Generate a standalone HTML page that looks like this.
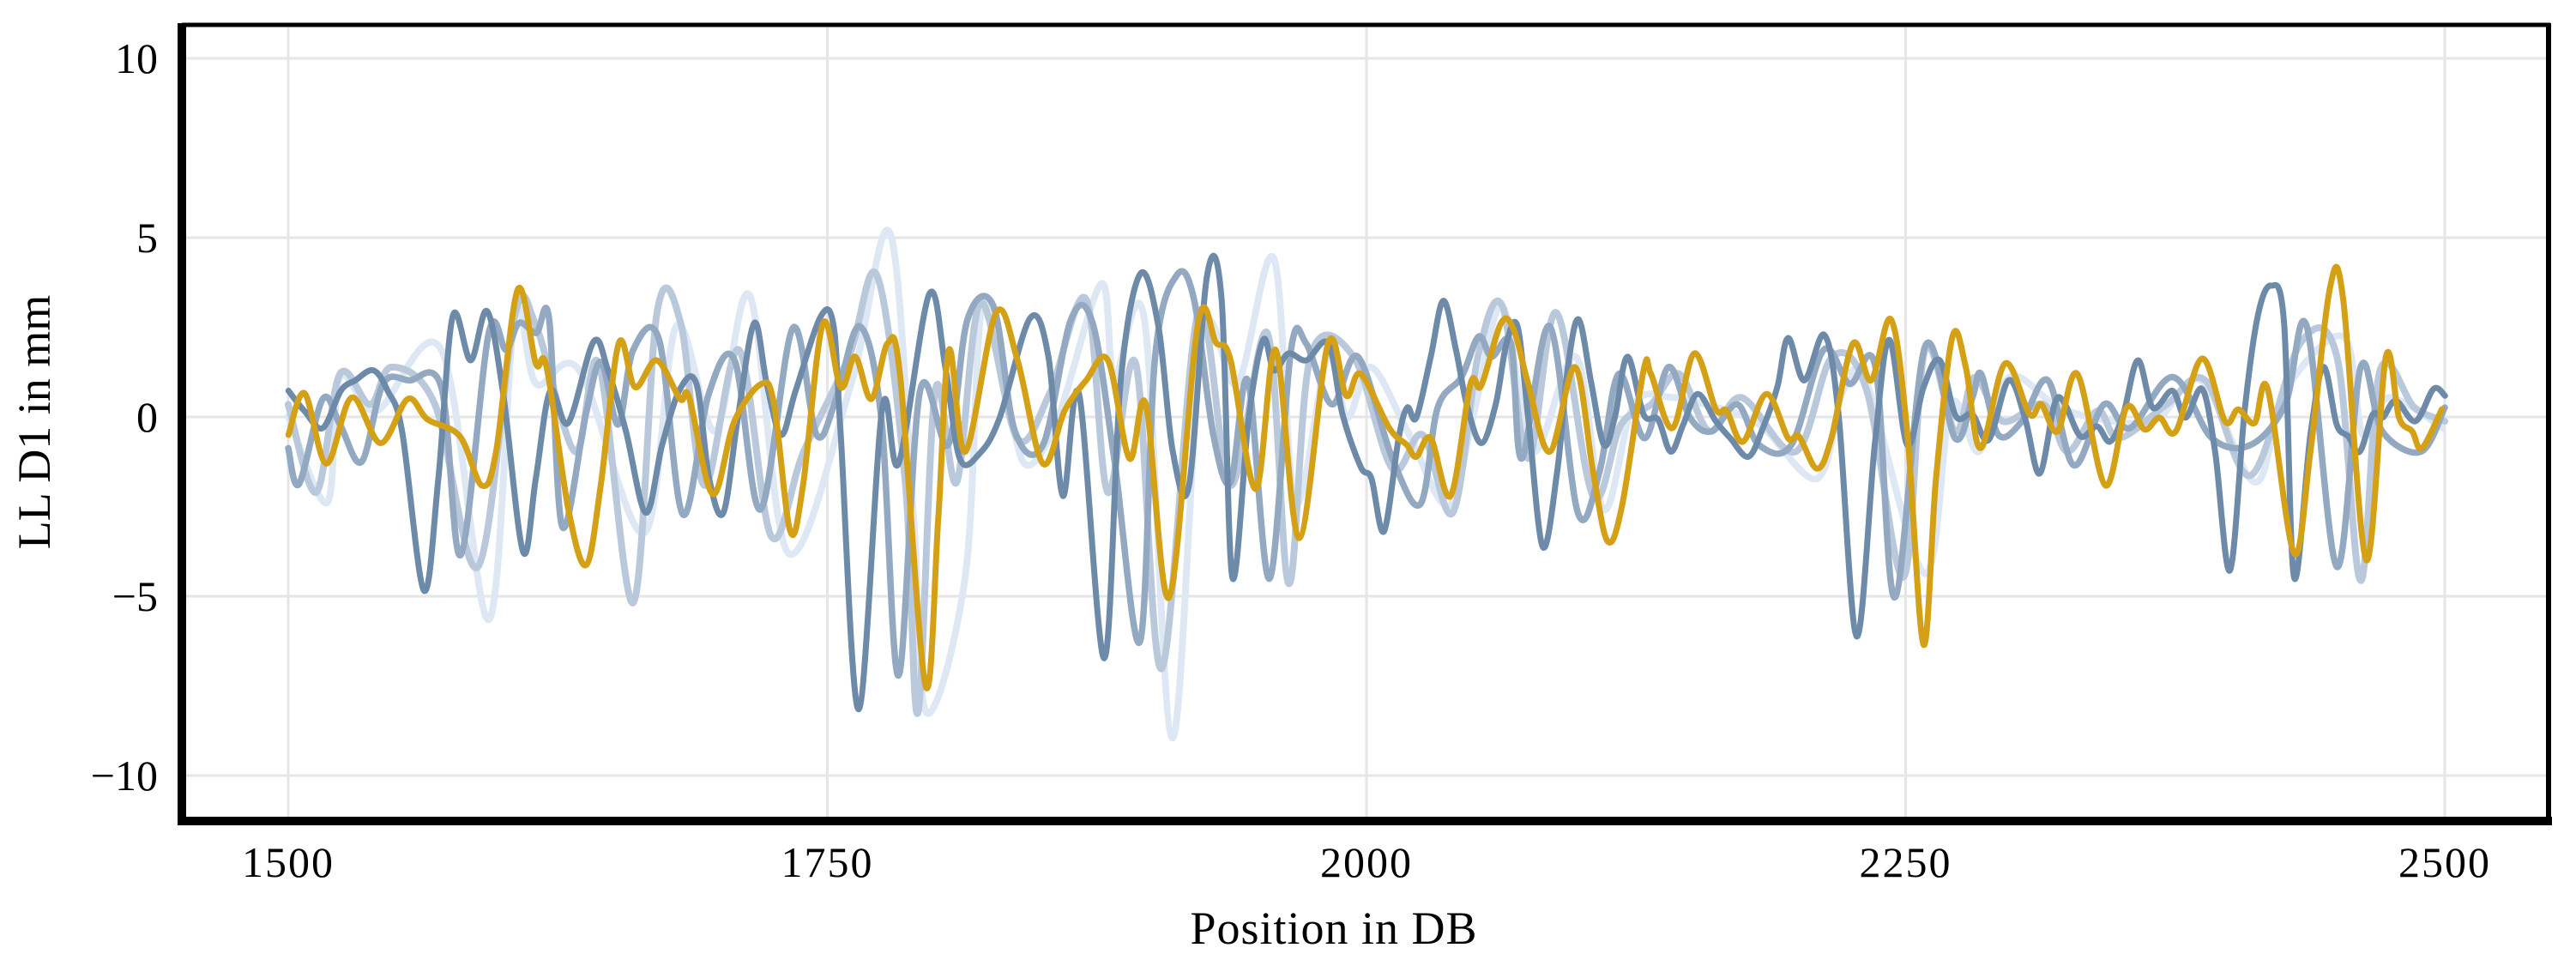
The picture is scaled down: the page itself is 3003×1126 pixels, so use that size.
<!DOCTYPE html>
<html><head><meta charset="utf-8"><style>
html,body{margin:0;padding:0;background:#fff;}
svg{display:block;}
text{font-family:"Liberation Serif",serif;fill:#000;}
</style></head><body>
<svg id="chart" width="3003" height="1126" viewBox="0 0 3003 1126" xmlns="http://www.w3.org/2000/svg">
<rect x="0" y="0" width="3003" height="1126" fill="#fff"/>
<g id="grid"></g>
<g id="series"></g>
<g id="frame">
<line x1="212" y1="29" x2="2973" y2="29" stroke="#000" stroke-width="5"/>
<line x1="2971" y1="27" x2="2971" y2="962" stroke="#000" stroke-width="6"/>
<line x1="212" y1="27" x2="212" y2="962" stroke="#000" stroke-width="10"/>
<line x1="210" y1="957" x2="2975" y2="957" stroke="#000" stroke-width="10"/>
</g>
<g id="ticks"></g>
<text x="1555" y="1100" font-size="54" text-anchor="middle" letter-spacing="1">Position in DB</text>
<text transform="translate(58,492) rotate(-90)" font-size="54" text-anchor="middle">LL D1 in mm</text>
</svg>
<script>
const xTicks=[1500,1750,2000,2250,2500];
const yTicks=[-10,-5,0,5,10];
const xTickLabels=["1500","1750","2000","2250","2500"];
const yTickLabels=["\u221210","\u22125","0","5","10"];

const darkX=[1500.1,1507.6,1516.0,1524.4,1531.1,1539.5,1546.1,1552.8,1562.9,1569.6,1576.3,1584.6,1592.2,1599.7,1608.9,1614.8,1621.5,1629.8,1641.6,1648.3,1656.6,1665.8,1673.4,1681.7,1689.3,1695.2,1701.8,1708.5,1716.1,1721.9,1728.6,1735.3,1747.0,1752.9,1756.2,1764.6,1775.5,1783.0,1797.2,1804.7,1811.4,1820.6,1829.9,1844.1,1852.5,1859.2,1866.7,1878.4,1885.9,1895.1,1903.5,1910.2,1917.7,1926.1,1932.8,1937.8,1945.4,1952.1,1957.1,1963.8,1972.1,1982.2,1988.9,1997.3,2002.3,2008.1,2014.9,2018.9,2023.1,2029.8,2035.6,2041.5,2046.5,2053.2,2059.9,2064.9,2070.0,2075.0,2081.7,2088.4,2093.4,2098.4,2104.3,2110.1,2115.1,2121.0,2128.5,2135.2,2141.1,2146.9,2153.6,2162.0,2168.7,2177.1,2183.8,2190.5,2195.5,2203.0,2212.3,2218.9,2227.3,2235.7,2242.4,2250.7,2258.3,2265.8,2273.3,2280.9,2288.5,2297.7,2305.3,2312.1,2319.0,2323.5,2331.1,2338.7,2344.8,2350.9,2357.7,2364.6,2373.7,2379.8,2387.5,2393.5,2400.4,2407.2,2413.3,2419.4,2425.5,2430.1,2437.7,2443.8,2449.9,2455.2,2460.6,2466.6,2471.2,2477.3,2486.4,2494.8,2500.1];
const darkY=[0.73,0.16,-0.31,0.73,1.02,1.30,0.73,-0.40,-4.84,-1.72,2.81,1.58,2.95,0.64,-3.76,-1.72,0.73,-0.17,2.10,1.30,-0.40,-2.67,-0.78,0.78,0.92,-1.72,-2.67,-0.02,2.62,0.92,-0.50,0.73,2.81,2.53,-0.50,-8.15,0.26,-1.30,3.42,1.39,-1.16,-1.02,-0.02,2.76,1.68,-2.20,0.64,-6.73,0.92,3.99,2.53,-0.97,-1.91,3.95,3.28,-4.47,-0.02,2.15,1.30,1.77,1.58,2.05,0.07,-1.39,-1.72,-3.19,-0.59,0.26,-0.02,1.68,3.24,1.87,0.35,-0.73,0.35,2.05,2.53,-0.02,-3.62,-1.54,1.39,2.72,0.92,-0.78,-0.02,1.68,0.07,-0.07,-0.97,-0.21,0.64,-0.12,-0.59,-1.11,-0.31,0.83,2.20,1.02,2.29,0.07,-6.12,-0.78,2.15,-0.78,0.83,1.58,0.02,0.07,-0.64,1.02,-0.02,-1.58,0.35,0.40,-0.54,-0.26,-0.69,0.07,1.58,0.26,0.73,-0.02,0.78,-0.97,-4.28,0.17,2.81,3.66,2.62,-4.47,-0.50,1.39,-0.21,-0.54,-0.97,0.07,-0.02,0.45,-0.12,0.78,0.59];

const medX=[1500,1505,1516,1524,1534,1544,1556,1571,1580,1593,1601,1607,1615,1621,1627,1638,1645,1653,1660,1672,1683,1695,1707,1719,1734,1745,1754,1765,1775,1783,1793,1806,1815,1827,1837,1850,1863,1873,1883,1895,1902,1912,1920,1929,1937,1945,1955,1965,1972,1984,1996,2012,2025,2033,2044,2052,2058,2067,2072,2085,2098,2108,2117,2129,2140,2150,2160,2172,2182,2197,2212,2224,2236,2245,2259,2273,2281,2285,2293,2304,2316,2328,2342,2354,2374,2392,2410,2426,2436,2450,2461,2471,2489,2500];
const medY=[-0.87,-1.87,0.50,-0.21,-1.25,0.92,1.02,0.83,-3.85,2.34,1.87,2.62,2.34,2.72,-3.05,0.07,1.53,-0.21,1.87,2.15,-2.72,0.64,1.58,-2.58,2.48,-0.50,0.50,2.53,-0.02,-7.21,0.73,-0.78,2.72,3.09,-0.40,-0.78,2.72,2.62,-1.16,-6.26,1.68,3.95,3.28,-0.50,-1.82,1.02,-4.51,1.87,2.05,0.35,1.68,-1.16,-2.43,0.26,1.11,2.24,1.68,2.05,-1.16,2.53,-2.67,-1.54,1.20,-0.59,1.39,-0.02,-0.40,0.35,-0.78,-0.78,1.87,0.92,1.39,-5.03,1.96,-0.60,0.54,1.20,-0.50,-0.12,1.02,-1.35,0.35,-0.31,1.11,-0.59,-0.78,0.35,2.53,-4.18,1.39,-0.40,-0.97,0.26];

const lightX=[1500,1513,1524,1538,1548,1568,1588,1605,1615,1633,1644,1660,1671,1682,1693,1709,1724,1739,1760,1773,1786,1792,1800,1810,1821,1838,1853,1870,1880,1893,1905,1922,1937,1954,1964,1974,1994,2012,2026,2040,2052,2063,2075,2088,2105,2118,2132,2145,2159,2174,2199,2216,2232,2249,2259,2273,2282,2295,2314,2325,2339,2349,2371,2389,2410,2433,2450,2461,2470,2486,2500];
const lightY=[0.35,-2.10,1.20,0.35,1.39,0.35,-4.18,2.81,2.53,-0.97,1.49,-5.18,2.91,2.62,-1.91,1.87,-3.33,-0.97,1.68,3.95,-1.72,-8.25,0.73,-1.82,3.19,-0.59,0.64,3.28,-2.10,1.49,-7.02,2.91,-1.91,2.34,-4.65,1.68,1.68,-1.44,-0.50,-2.67,1.77,3.09,-1.16,2.91,-2.20,-0.21,0.35,1.20,-0.40,0.54,-0.97,1.68,0.73,-4.47,1.87,-0.40,1.11,-0.12,0.35,-0.97,0.17,-0.59,0.35,1.02,-1.63,2.05,1.68,-4.56,1.30,0.26,-0.12];

const paleX=[1500,1518,1524,1541,1571,1593,1605,1615,1635,1665,1680,1698,1714,1732,1761,1779,1790,1796,1814,1822,1835,1843,1857,1877,1883,1897,1910,1924,1940,1957,1967,1982,1991,2002,2019,2038,2050,2063,2077,2097,2110,2124,2142,2157,2182,2209,2221,2232,2259,2271,2284,2298,2319,2337,2365,2387,2412,2426,2453,2462,2474,2499];
const paleY=[0.02,-2.39,1.11,0.17,1.87,-5.65,2.81,0.92,1.30,-3.24,2.53,-0.40,3.38,-3.80,0.92,5.13,-2.86,-8.25,-4.42,3.19,-0.02,-1.35,-0.02,3.71,1.11,2.72,-8.95,2.24,0.92,4.42,-2.39,1.68,-0.02,1.39,-0.40,-2.48,0.17,3.09,-0.97,1.68,-2.58,0.35,0.54,0.35,-0.21,-1.72,0.73,0.92,-4.37,0.35,-0.97,1.11,0.35,-0.02,-0.12,1.02,-1.82,0.73,2.24,-0.50,0.54,-0.31];

const goldX=[1500.1,1507.6,1517.7,1529.4,1542.8,1555.4,1564.6,1579.6,1589.7,1596.4,1606.4,1614.8,1619.8,1629.9,1638.2,1644.9,1653.3,1660.8,1670.9,1681.7,1685.9,1696.8,1706.9,1719.4,1725.3,1732.8,1738.7,1747.9,1756.2,1762.9,1770.4,1778.0,1783.8,1795.5,1801.4,1806.4,1814.0,1828.2,1838.2,1849.9,1860.0,1870.0,1880.1,1890.1,1897.7,1908.5,1921.9,1930.3,1937.0,1948.7,1957.9,1968.8,1982.2,1990.6,1997.3,2010.6,2018.7,2023.1,2029.8,2039.0,2048.2,2053.2,2062.4,2068.3,2075.0,2085.0,2096.7,2105.1,2111.8,2118.5,2128.5,2131.9,2141.9,2152.0,2162.0,2167.0,2174.6,2185.5,2195.5,2200.5,2208.9,2215.6,2225.6,2234.0,2243.2,2250.7,2258.3,2264.1,2271.7,2277.9,2284.7,2296.1,2307.5,2312.9,2320.5,2329.6,2342.6,2352.4,2360.8,2367.7,2375.3,2387.5,2398.1,2404.2,2411.8,2417.9,2430.1,2437.7,2446.8,2452.9,2463.6,2472.7,2478.8,2484.9,2489.4,2498.6];
const goldY=[-0.50,0.66,-1.30,0.54,-0.73,0.50,-0.07,-0.54,-1.91,-0.97,3.55,1.49,1.39,-2.58,-4.13,-1.91,2.06,0.83,1.58,0.50,0.54,-2.15,-0.12,0.92,0.35,-3.19,-1.91,2.60,0.83,1.68,0.50,2.06,1.11,-7.49,-2.86,1.87,-0.97,2.90,1.58,-1.30,0.17,1.02,1.58,-1.16,0.35,-5.03,2.62,2.06,1.58,-2.01,1.87,-3.38,2.06,0.59,1.20,-0.31,-0.78,-1.11,-0.59,-2.20,0.92,0.87,2.62,2.43,0.92,-0.97,1.39,-1.54,-3.47,-2.48,1.30,1.20,-0.31,1.77,0.21,0.17,-0.69,0.64,-0.59,-0.54,-1.44,-0.59,2.05,1.02,2.72,-0.40,-6.35,-1.72,2.24,1.39,-0.87,1.49,0.07,0.35,-0.40,1.20,-1.91,0.26,-0.35,-0.02,-0.40,1.63,-0.12,0.21,-0.17,0.78,-3.80,-0.97,3.61,3.28,-3.99,1.68,-0.02,-0.40,-0.87,0.21];

const NS="http://www.w3.org/2000/svg";
const plotLeft=216, plotRight=2968, plotTop=32, plotBottom=952;
function xScale(v){return 336+(v-1500)*(2850-336)/1000;}
function yScale(v){return 486-v*41.8;}

const grid=document.getElementById('grid');
xTicks.forEach((t,i)=>{
  const l=document.createElementNS(NS,'line');
  l.setAttribute('x1',xScale(t));l.setAttribute('x2',xScale(t));
  l.setAttribute('y1',plotTop);l.setAttribute('y2',plotBottom);
  l.setAttribute('stroke','#e6e6e6');l.setAttribute('stroke-width','3');
  
  
  grid.appendChild(l);
});
yTicks.forEach((t,i)=>{
  const l=document.createElementNS(NS,'line');
  l.setAttribute('x1',plotLeft);l.setAttribute('x2',plotRight);
  l.setAttribute('y1',yScale(t));l.setAttribute('y2',yScale(t));
  l.setAttribute('stroke','#e6e6e6');l.setAttribute('stroke-width','3');
  
  
  grid.appendChild(l);
});

const ticks=document.getElementById('ticks');
xTicks.forEach((t,i)=>{
  const tx=document.createElementNS(NS,'text');
  tx.setAttribute('x',xScale(t));tx.setAttribute('y',1022);
  tx.setAttribute('font-size','50');tx.setAttribute('text-anchor','middle');
  tx.setAttribute('letter-spacing','2');
  tx.textContent=xTickLabels[i];
  
  
  ticks.appendChild(tx);
});
yTicks.forEach((t,i)=>{
  const tx=document.createElementNS(NS,'text');
  tx.setAttribute('x',184);tx.setAttribute('y',yScale(t)+17);
  tx.setAttribute('font-size','50');tx.setAttribute('text-anchor','end');
  tx.textContent=yTickLabels[i];
  
  
  ticks.appendChild(tx);
});

function smoothPath(xs,ys){
  const p=xs.map((x,i)=>[xScale(x),yScale(ys[i])]);
  let d='M'+p[0][0].toFixed(1)+','+p[0][1].toFixed(1);
  for(let i=0;i<p.length-1;i++){
    const p0=p[Math.max(0,i-1)],p1=p[i],p2=p[i+1],p3=p[Math.min(p.length-1,i+2)];
    const c1x=p1[0]+(p2[0]-p0[0])/6,c1y=p1[1]+(p2[1]-p0[1])/6;
    const c2x=p2[0]-(p3[0]-p1[0])/6,c2y=p2[1]-(p3[1]-p1[1])/6;
    d+='C'+c1x.toFixed(1)+','+c1y.toFixed(1)+' '+c2x.toFixed(1)+','+c2y.toFixed(1)+' '+p2[0].toFixed(1)+','+p2[1].toFixed(1);
  }
  return d;
}
const seriesG=document.getElementById('series');
function addSeries(xs,ys,color,w,name){
  const path=document.createElementNS(NS,'path');
  path.setAttribute('d',smoothPath(xs,ys));
  path.setAttribute('fill','none');path.setAttribute('stroke',color);
  path.setAttribute('stroke-width',w);path.setAttribute('stroke-linejoin','round');
  path.setAttribute('stroke-linecap','round');
  
  
  seriesG.appendChild(path);
}
addSeries(paleX,paleY,'#dde8f4',8,'series-pale');
addSeries(lightX,lightY,'#b9c9db',8,'series-light');
addSeries(medX,medY,'#93a9c2',7.5,'series-medium');
addSeries(darkX,darkY,'#6e8aa9',7,'series-dark');
addSeries(goldX,goldY,'#d4a015',7,'series-highlight');
</script>
</body></html>
